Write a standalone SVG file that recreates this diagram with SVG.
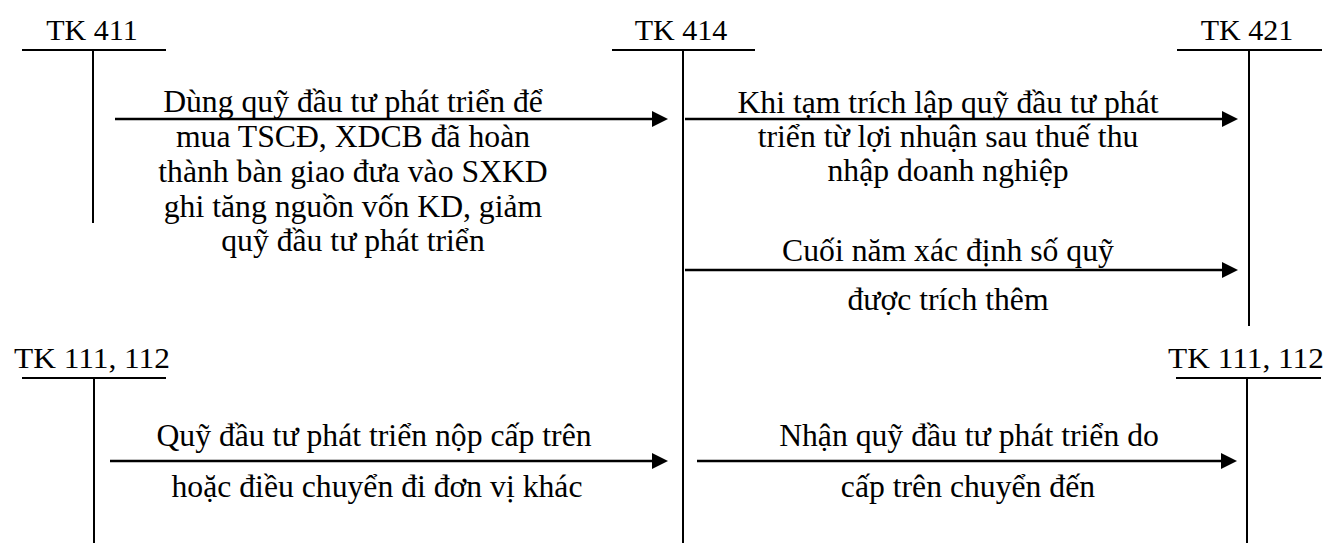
<svg xmlns="http://www.w3.org/2000/svg" width="1328" height="543" viewBox="0 0 1328 543">
<style>
text{font-family:"Liberation Serif","Times New Roman",serif;fill:#000}
.lbl{font-size:30px;text-anchor:middle}
.txt{font-size:31.7px;text-anchor:middle}
.acc{stroke:#000;stroke-width:2;fill:none}
.arr{stroke:#000;stroke-width:2.5;fill:none;marker-end:url(#ah)}
</style>
<defs>
<marker id="ah" viewBox="0 0 16 16" refX="6" refY="8" markerWidth="16" markerHeight="16" markerUnits="userSpaceOnUse" orient="auto">
<path d="M0,0 L16,8 L0,16 z" fill="#000"/>
</marker>
</defs>
<g id="tk411">
<text class="lbl" x="92" y="40">TK 411</text>
<line class="acc" x1="22" y1="50" x2="166" y2="50"/>
<line class="acc" x1="93" y1="50" x2="93" y2="223"/>
</g>
<g id="tk414">
<text class="lbl" x="681" y="40">TK 414</text>
<line class="acc" x1="612" y1="50" x2="755" y2="50"/>
<line class="acc" x1="683" y1="50" x2="683" y2="543"/>
</g>
<g id="tk421">
<text class="lbl" x="1247" y="40">TK 421</text>
<line class="acc" x1="1177" y1="50" x2="1322" y2="50"/>
<line class="acc" x1="1249" y1="50" x2="1249" y2="326"/>
</g>
<g id="tk111-left">
<text class="lbl" x="92" y="368" textLength="156" lengthAdjust="spacingAndGlyphs">TK 111, 112</text>
<line class="acc" x1="22" y1="378" x2="166" y2="378"/>
<line class="acc" x1="94" y1="378" x2="94" y2="543"/>
</g>
<g id="tk111-right">
<text class="lbl" x="1246" y="368" textLength="156" lengthAdjust="spacingAndGlyphs">TK 111, 112</text>
<line class="acc" x1="1176" y1="378" x2="1321" y2="378"/>
<line class="acc" x1="1247" y1="378" x2="1247" y2="543"/>
</g>
<g id="connectors">
<line class="arr" x1="115" y1="119" x2="658" y2="119"/>
<line class="arr" x1="685" y1="119" x2="1228" y2="119"/>
<line class="arr" x1="685" y1="270" x2="1228" y2="270"/>
<line class="arr" x1="110" y1="461" x2="658" y2="461"/>
<line class="arr" x1="697" y1="461" x2="1227" y2="461"/>
</g>
<g id="labels">
<text class="txt" x="353" y="112">Dùng quỹ đầu tư phát triển để</text>
<text class="txt" x="353" y="147">mua TSCĐ, XDCB đã hoàn</text>
<text class="txt" x="353" y="182">thành bàn giao đưa vào SXKD</text>
<text class="txt" x="353" y="217">ghi tăng nguồn vốn KD, giảm</text>
<text class="txt" x="353" y="251">quỹ đầu tư phát triển</text>
<text class="txt" x="948" y="113">Khi tạm trích lập quỹ đầu tư phát</text>
<text class="txt" x="948" y="147">triển từ lợi nhuận sau thuế thu</text>
<text class="txt" x="948" y="181">nhập doanh nghiệp</text>
<text class="txt" x="948" y="261">Cuối năm xác định số quỹ</text>
<text class="txt" x="948" y="310">được trích thêm</text>
<text class="txt" x="374" y="446">Quỹ đầu tư phát triển nộp cấp trên</text>
<text class="txt" x="377" y="497">hoặc điều chuyển đi đơn vị khác</text>
<text class="txt" x="969" y="446">Nhận quỹ đầu tư phát triển do</text>
<text class="txt" x="968" y="497">cấp trên chuyển đến</text>
</g>
</svg>
